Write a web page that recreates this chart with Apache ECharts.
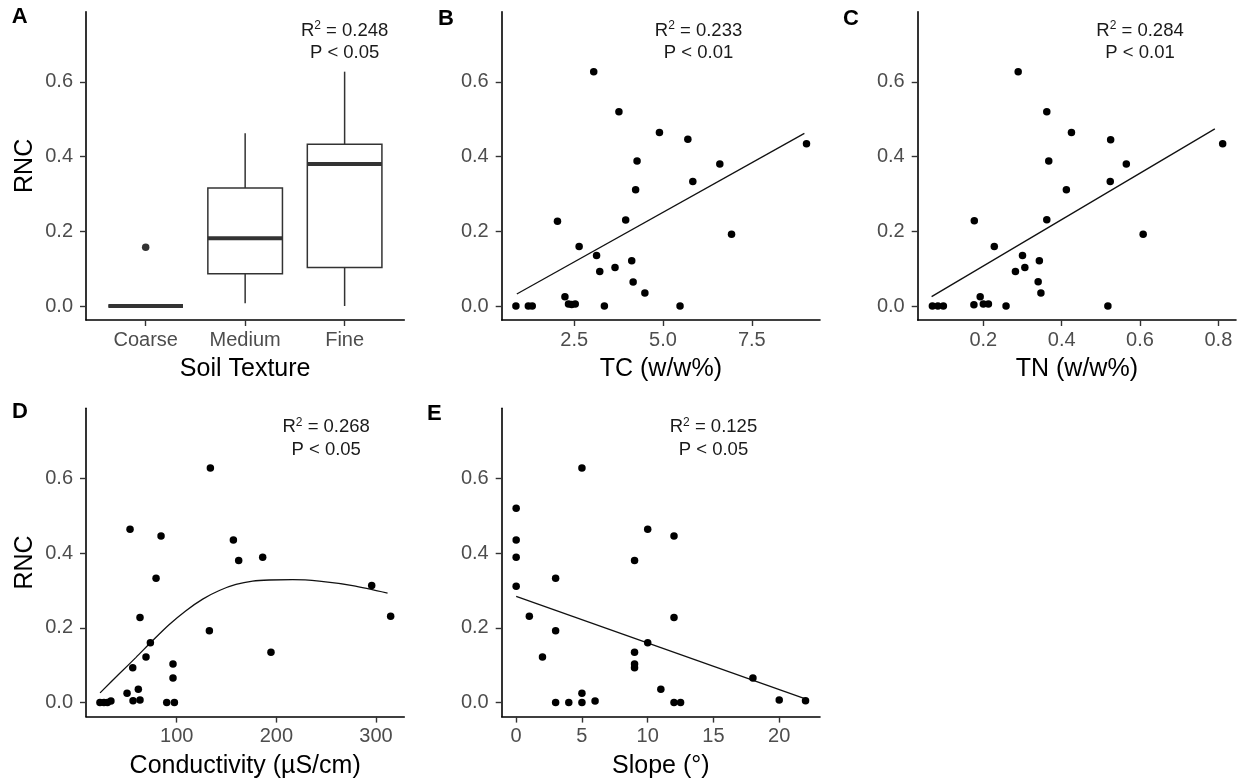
<!DOCTYPE html>
<html>
<head>
<meta charset="utf-8">
<script src="https://cdn.jsdelivr.net/npm/echarts@6/dist/echarts.min.js"></script>
<style>
  html, body { margin: 0; padding: 0; background: #ffffff; }
  #chart { width: 1243px; height: 782px; }
</style>
</head>
<body>
<div id="chart"></div>
<script>
// ---- Panel A: RNC by soil texture (box statistics) ----
const textureCats = ['Coarse', 'Medium', 'Fine'];
const boxLow  = [0, 0.007, 0];
const boxQ1   = [0, 0.086, 0.103];
const boxMed  = [0, 0.181, 0.380];
const boxQ3   = [0, 0.316, 0.433];
const boxHigh = [0, 0.462, 0.627];
const boxOutliers = [[1, 0.157]];

// ---- Panel B: RNC vs total carbon ----
const tcX = [0.86, 1.21, 1.32, 2.03, 2.24, 2.34, 2.43, 2.53, 2.64, 3.05, 3.13, 3.22, 3.35, 3.65,
             3.76, 3.95, 4.12, 4.16, 4.23, 4.27, 4.49, 4.90, 5.48, 5.70, 5.84, 6.60, 6.93, 9.04];
const tcY = [0, 0, 0, 0.227, 0.025, 0.005, 0.004, 0.005, 0.159, 0.627, 0.135, 0.092, 0, 0.103,
             0.520, 0.230, 0.121, 0.064, 0.311, 0.388, 0.035, 0.464, 0, 0.446, 0.333, 0.380, 0.192, 0.434];
const tcFit = [[0.885, 0.032], [8.98, 0.462]];

// ---- Panel C: RNC vs total nitrogen ----
const tnX = [0.070, 0.084, 0.098, 0.176, 0.192, 0.200, 0.213, 0.177, 0.228, 0.258, 0.282, 0.289, 0.300, 0.306,
             0.340, 0.343, 0.347, 0.362, 0.362, 0.367, 0.412, 0.425, 0.518, 0.525, 0.524, 0.565, 0.608, 0.811];
const tnY = [0, 0, 0, 0.003, 0.025, 0.005, 0.005, 0.228, 0.159, 0, 0.092, 0.627, 0.135, 0.103,
             0.065, 0.121, 0.035, 0.520, 0.231, 0.388, 0.311, 0.464, 0, 0.445, 0.333, 0.380, 0.192, 0.434];
const tnFit = [[0.068, 0.025], [0.791, 0.474]];

// ---- Panel D: RNC vs conductivity ----
const ecX = [23, 27, 30.5, 34, 50.2, 53.2, 55.9, 56.2, 61.5, 63.2, 63.2, 69.2, 73.6, 79.3, 84.3, 90,
             96.3, 96.3, 97.7, 132.8, 133.8, 156.9, 162.2, 186.3, 194.6, 295.7, 314.7];
const ecY = [0, 0, 0, 0.004, 0.025, 0.464, 0.093, 0.005, 0.036, 0.007, 0.228, 0.122, 0.160, 0.333, 0.446, 0,
             0.103, 0.066, 0, 0.192, 0.628, 0.435, 0.380, 0.389, 0.135, 0.313, 0.231];
const ecCurve = [[23.1, 0.026], [42.4, 0.077], [59.2, 0.121], [75.9, 0.166], [92.6, 0.209], [109.3, 0.246],
                 [126.1, 0.277], [142.8, 0.300], [159.5, 0.316], [176.2, 0.325], [192.9, 0.328],
                 [216.3, 0.329], [243.0, 0.325], [276.5, 0.313], [311.6, 0.293]];

// ---- Panel E: RNC vs slope ----
const slX = [0, 0, 0, 0, 1, 2, 3, 3, 3, 4, 5, 5, 5, 6, 9, 9, 9, 9, 10, 10, 11, 12, 12, 12, 12.5, 18, 20, 22];
const slY = [0.520, 0.435, 0.389, 0.311, 0.231, 0.122, 0.333, 0.192, 0, 0, 0.628, 0.025, 0, 0.004,
             0.380, 0.135, 0.103, 0.093, 0.464, 0.160, 0.036, 0.446, 0.228, 0, 0, 0.066, 0.007, 0.005];
const slFit = [[0, 0.284], [22.05, 0.009]];

// ---- Axis ticks, titles and fit statistics ----
const rncTicks = [0, 0.2, 0.4, 0.6];
const tcTicks = [2.5, 5.0, 7.5];
const tnTicks = [0.2, 0.4, 0.6, 0.8];
const ecTicks = [100, 200, 300];
const slTicks = [0, 5, 10, 15, 20];
const xTitles = ['Soil Texture', 'TC (w/w%)', 'TN (w/w%)', 'Conductivity (\u00B5S/cm)', 'Slope (\u00B0)'];
const panelLetters = ['A', 'B', 'C', 'D', 'E'];
const noteX = [3, 6, 0.6, 250, 15];
const noteR2 = ['0.248', '0.233', '0.284', '0.268', '0.125'];
const noteP = ['P < 0.05', 'P < 0.01', 'P < 0.01', 'P < 0.05', 'P < 0.05'];

const FONT = '"Liberation Sans", Arial, Helvetica, sans-serif';
const TICK_COLOR = '#333333';
const LABEL_COLOR = '#4D4D4D';

const zip = (xs, ys) => xs.map((x, i) => [x, ys[i]]);

const grids = [
  { left: 86,    top: 11.7,  width: 318.3, height: 308.3 },
  { left: 501.7, top: 11.7,  width: 318.3, height: 308.3 },
  { left: 917.7, top: 11.7,  width: 318.3, height: 308.3 },
  { left: 86,    top: 408.3, width: 318.3, height: 308.3 },
  { left: 501.7, top: 408.3, width: 318.3, height: 308.3 }
];

const xRanges = [[0.4, 3.6], [0.46, 9.42], [0.0325, 0.845], [9, 328.4], [-1.1, 23.1]];
const xTickSets = [[1, 2, 3], tcTicks, tnTicks, ecTicks, slTicks];
const xFormatters = [
  v => textureCats[Math.round(v) - 1],
  v => v.toFixed(1),
  v => v.toFixed(1),
  v => String(v),
  v => String(v)
];

function axisCommon() {
  return {
    axisLine: { show: true, onZero: false, lineStyle: { color: '#000', width: 1.6 } },
    axisTick: { show: true, length: 6, lineStyle: { color: TICK_COLOR, width: 1.4 } },
    splitLine: { show: false },
    axisLabel: { color: LABEL_COLOR, fontSize: 20, fontFamily: FONT }
  };
}

const xAxes = grids.map((g, i) => {
  const a = axisCommon();
  return {
    type: 'value', gridIndex: i, min: xRanges[i][0], max: xRanges[i][1],
    axisLine: a.axisLine,
    axisTick: Object.assign({}, a.axisTick, { customValues: xTickSets[i] }),
    axisLabel: Object.assign({}, a.axisLabel, { customValues: xTickSets[i], formatter: xFormatters[i], margin: 10 }),
    splitLine: a.splitLine,
    name: xTitles[i], nameLocation: 'middle', nameGap: 37,
    nameTextStyle: { color: '#000', fontSize: 25, fontFamily: FONT }
  };
});

const yAxes = grids.map((g, i) => {
  const a = axisCommon();
  const showTitle = (i === 0 || i === 3);
  return {
    type: 'value', gridIndex: i, min: -0.0375, max: 0.7875,
    axisLine: a.axisLine,
    axisTick: Object.assign({}, a.axisTick, { customValues: rncTicks }),
    axisLabel: Object.assign({}, a.axisLabel, { customValues: rncTicks, formatter: v => v.toFixed(1), margin: 13 }),
    splitLine: a.splitLine,
    name: showTitle ? 'RNC' : '', nameLocation: 'middle', nameGap: 48,
    nameTextStyle: { color: '#000', fontSize: 25, fontFamily: FONT }
  };
});

const BOX_WIDTH = 0.75;
function renderBox(params, api) {
  const x = api.value(0);
  const pLow = api.coord([x, api.value(1)]);
  const pQ1 = api.coord([x, api.value(2)]);
  const pMed = api.coord([x, api.value(3)]);
  const pQ3 = api.coord([x, api.value(4)]);
  const pHigh = api.coord([x, api.value(5)]);
  const left = api.coord([x - BOX_WIDTH / 2, 0])[0];
  const right = api.coord([x + BOX_WIDTH / 2, 0])[0];
  const stroke = { stroke: '#333333', lineWidth: 1.5, fill: null };
  return {
    type: 'group',
    children: [
      { type: 'line', shape: { x1: pLow[0], y1: pLow[1], x2: pQ1[0], y2: pQ1[1] }, style: stroke },
      { type: 'line', shape: { x1: pQ3[0], y1: pQ3[1], x2: pHigh[0], y2: pHigh[1] }, style: stroke },
      { type: 'rect', shape: { x: left, y: pQ3[1], width: right - left, height: pQ1[1] - pQ3[1] },
        style: { stroke: '#333333', lineWidth: 1.5, fill: '#ffffff' } },
      { type: 'line', shape: { x1: left, y1: pMed[1], x2: right, y2: pMed[1] },
        style: { stroke: '#333333', lineWidth: 4 } }
    ]
  };
}

function pointSeries(idx, data, color) {
  return {
    type: 'scatter', xAxisIndex: idx, yAxisIndex: idx, data: data,
    symbol: 'circle', symbolSize: 7.5, itemStyle: { color: color || '#000', opacity: 1 },
    z: 3, silent: true
  };
}
function fitSeries(idx, data, smooth) {
  return {
    type: 'line', xAxisIndex: idx, yAxisIndex: idx, data: data, smooth: smooth || false,
    showSymbol: false, symbol: 'none', lineStyle: { color: '#111', width: 1.3 }, z: 2, silent: true
  };
}

const option = {
  animation: false,
  backgroundColor: '#ffffff',
  grid: grids,
  xAxis: xAxes,
  yAxis: yAxes,
  series: [
    {
      type: 'custom', xAxisIndex: 0, yAxisIndex: 0, renderItem: renderBox, silent: true,
      data: textureCats.map((c, i) => [i + 1, boxLow[i], boxQ1[i], boxMed[i], boxQ3[i], boxHigh[i]]),
      encode: { x: 0, y: [1, 2, 3, 4, 5] }, z: 2
    },
    pointSeries(0, boxOutliers, '#333333'),
    pointSeries(1, zip(tcX, tcY)),
    fitSeries(1, tcFit),
    pointSeries(2, zip(tnX, tnY)),
    fitSeries(2, tnFit),
    pointSeries(3, zip(ecX, ecY)),
    fitSeries(3, ecCurve, 0.3),
    pointSeries(4, zip(slX, slY)),
    fitSeries(4, slFit)
  ]
};

const chart = echarts.init(document.getElementById('chart'), null, { renderer: 'canvas' });
chart.setOption(option);

// Panel letters and the fit statistics in each panel
const letterPos = [[11.7, 10], [438, 11.7], [843, 11.7], [12, 405], [427, 406.7]];
const graphics = [];
panelLetters.forEach((L, i) => {
  graphics.push({
    type: 'text', x: letterPos[i][0], y: letterPos[i][1] - 4, silent: true,
    style: { text: L, font: 'bold 22px ' + FONT, fill: '#000', align: 'left', verticalAlign: 'top' }
  });
});
noteX.forEach((nx, i) => {
  const pR = chart.convertToPixel({ gridIndex: i }, [nx, 0.7365]);
  const pP = chart.convertToPixel({ gridIndex: i }, [nx, 0.676]);
  graphics.push({
    type: 'text', x: pR[0], y: pR[1], silent: true,
    style: {
      text: '{n|R}{s|2}{n| = ' + noteR2[i] + '}',
      align: 'center', verticalAlign: 'middle',
      rich: {
        n: { fontSize: 18.5, fontFamily: FONT, fill: '#1a1a1a', lineHeight: 22 },
        s: { fontSize: 12, fontFamily: FONT, fill: '#1a1a1a', verticalAlign: 'top', lineHeight: 14 }
      }
    }
  });
  graphics.push({
    type: 'text', x: pP[0], y: pP[1], silent: true,
    style: { text: noteP[i], font: '18.5px ' + FONT, fill: '#1a1a1a', align: 'center', verticalAlign: 'middle' }
  });
});
chart.setOption({ graphic: graphics });
</script>
</body>
</html>
